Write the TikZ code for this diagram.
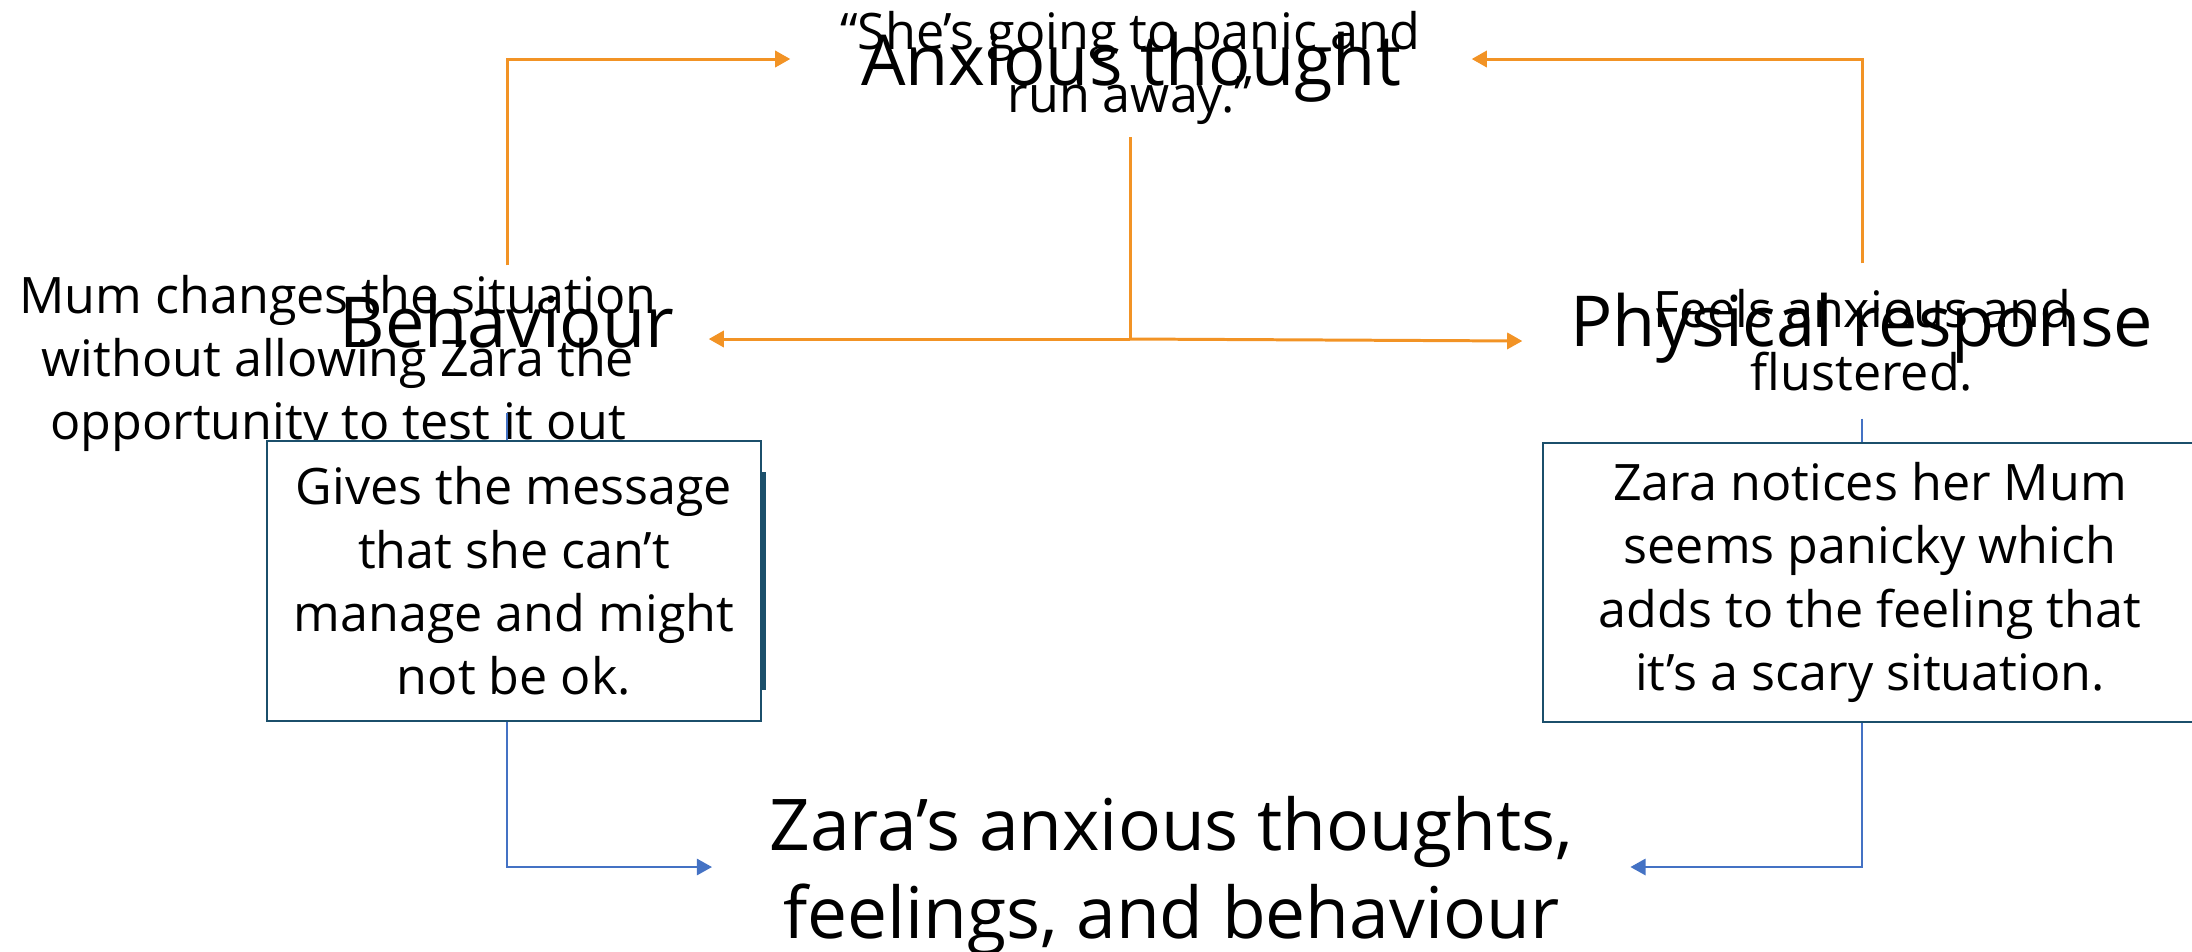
\documentclass[tikz,border=0pt]{standalone}
\usepackage{fontspec}
\setmainfont{Open Sans}
\usetikzlibrary{arrows.meta}
\definecolor{cbtorange}{HTML}{F29325}
\definecolor{cbtblue}{HTML}{4472C4}
\definecolor{cbtbox}{HTML}{1B4F6B}
\begin{document}
\begin{tikzpicture}[x=0.1mm,y=-0.1mm]
	\tikzstyle{every node}+=[inner sep=0pt]
	\tikzstyle{heading}=[font=\fontsize{20}{25}\selectfont]
	\tikzstyle{note}=[font=\fontsize{14.3}{17.9}\selectfont, align=center]
	\tikzstyle{card}=[draw=cbtbox, line width=0.6pt, fill=white, font=\fontsize{14.3}{18}\selectfont, align=center]
	\tikzstyle{orangeline}=[draw=cbtorange, line width=0.85pt]
	\tikzstyle{blueline}=[draw=cbtblue, line width=0.7pt]
	\tikzstyle{arrowed}=[-{Triangle[length=4.3pt,width=4.6pt]}]
	\useasboundingbox (0,0) rectangle (2192,951);
	\node[heading, text height=5.2mm, text depth=0pt, minimum width=68mm, anchor=base] (thoughtHead) at (1131,85) {Anxious thought};
	\node[note, anchor=south, inner sep=1.2mm] (thoughtText) at (1130,137) {“She’s going to panic and\\run away.”};
	\node[heading, text height=8.1mm, text depth=6.5mm, minimum width=40.2mm, anchor=base] (behavHead) at (507,347) {Behaviour};
	\node[note, anchor=north] (behavText) at (338,275) {Mum changes the situation\\without allowing Zara the\\opportunity to test it out};
	\node[heading, text height=8.2mm, text depth=7.2mm, minimum width=67.8mm, anchor=base] (physHead) at (1862,346) {Physical response};
	\node[note, anchor=north] (physText) at (1862,289) {Feels anxious and\\flustered.};
	\node[card, minimum width=49.4mm, minimum height=28mm] (lbox) at (514,581) {Gives the message\\that she can’t\\manage and might\\not be ok.};
	\node[card, minimum width=65.4mm, minimum height=27.9mm] (rbox) at (1870,582.5) {Zara notices her Mum\\seems panicky which\\adds to the feeling that\\it’s a scary situation.};
	\node[font=\fontsize{20.3}{25}\selectfont, align=center, text depth=0pt, minimum width=91.7mm, anchor=west] (result) at (712,867) {Zara’s anxious thoughts,\\feelings, and behaviour};
	\coordinate (fork) at (thoughtText.south |- behavHead.east);
	\draw[orangeline, arrowed] (behavHead.north) |- (thoughtHead.west);
	\draw[orangeline, arrowed] (physHead.north) |- (thoughtHead.east);
	\draw[orangeline] (thoughtText.south) -- (fork);
	\draw[orangeline, arrowed] (fork) -- (behavHead.east);
	\draw[orangeline, arrowed] (fork) -- (physHead.west);
	\draw[blueline] (behavHead.south) -- (behavHead.south |- lbox.north);
	\draw[blueline] (physHead.south) -- (physHead.south |- rbox.north);
	\draw[blueline, arrowed] (lbox.south -| behavHead.south) |- (result.west);
	\draw[blueline, arrowed] (rbox.south -| physHead.south) |- (result.east);
	\draw[cbtbox, line width=1pt] ([xshift=0.2mm,yshift=10.9mm]lbox.east) -- ([xshift=0.2mm,yshift=-10.9mm]lbox.east);
\end{tikzpicture}
\end{document}
